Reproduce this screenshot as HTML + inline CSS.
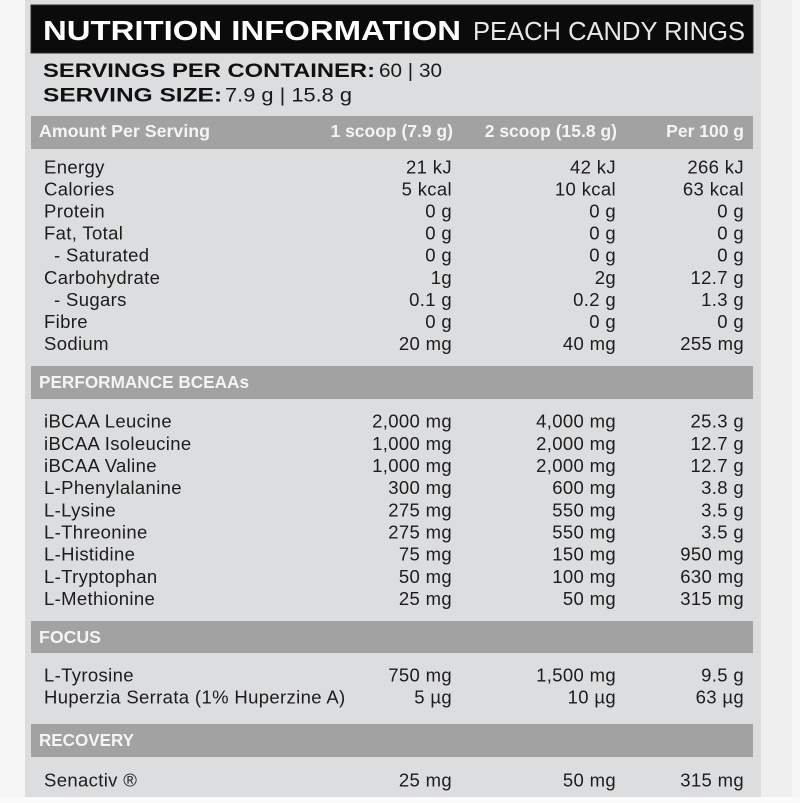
<!DOCTYPE html>
<html><head><meta charset="utf-8"><style>
html,body{margin:0;padding:0;background:#f6f6f6;}
svg{display:block;}
.b{font-family:"Liberation Sans",Arial,sans-serif;font-size:18.5px;fill:#1c1c1c;letter-spacing:0.35px;}
.h{font-family:"Liberation Sans",Arial,sans-serif;font-size:17.5px;font-weight:bold;fill:#f4f4f4;}
.e{text-anchor:end;}
</style></head><body>
<svg width="800" height="803" viewBox="0 0 800 803" xmlns="http://www.w3.org/2000/svg">
<rect x="0" y="0" width="800" height="803" fill="#f6f6f6"/>
<rect x="761" y="0" width="31" height="797" fill="#efefef"/>
<rect x="0" y="797" width="800" height="6" fill="#fbfbfb"/>
<rect x="25" y="0" width="736" height="797" fill="#dcdddf"/>
<rect x="31" y="5" width="722" height="48" fill="#0b0b0b" stroke="#2a2a2a" stroke-width="1"/>
<text x="43" y="40" font-family="Liberation Sans,Arial,sans-serif" font-weight="bold" font-size="28" fill="#ffffff" textLength="418" lengthAdjust="spacingAndGlyphs">NUTRITION INFORMATION</text>
<text x="473" y="40" font-family="Liberation Sans,Arial,sans-serif" font-size="25.5" fill="#e8e8e8" textLength="272" lengthAdjust="spacingAndGlyphs">PEACH CANDY RINGS</text>
<text x="43" y="77" font-family="Liberation Sans,Arial,sans-serif" font-weight="bold" font-size="19" fill="#111" textLength="332" lengthAdjust="spacingAndGlyphs">SERVINGS PER CONTAINER:</text>
<text x="379" y="77" font-family="Liberation Sans,Arial,sans-serif" font-size="19" fill="#1a1a1a" textLength="63" lengthAdjust="spacingAndGlyphs">60 | 30</text>
<text x="43" y="101.5" font-family="Liberation Sans,Arial,sans-serif" font-weight="bold" font-size="19" fill="#111" textLength="179" lengthAdjust="spacingAndGlyphs">SERVING SIZE:</text>
<text x="225" y="101.5" font-family="Liberation Sans,Arial,sans-serif" font-size="19" fill="#1a1a1a" textLength="127" lengthAdjust="spacingAndGlyphs">7.9 g | 15.8 g</text>

<rect x="31" y="116" width="722" height="33" fill="#a1a2a1"/>
<text class="h" x="39" y="137" textLength="171" lengthAdjust="spacingAndGlyphs">Amount Per Serving</text>
<text class="h e" x="453" y="137">1 scoop (7.9 g)</text>
<text class="h e" x="617" y="137">2 scoop (15.8 g)</text>
<text class="h e" x="744" y="137">Per 100 g</text>

<g class="b">
<text x="44" y="173.3">Energy</text><text class="e" x="452" y="173.3">21 kJ</text><text class="e" x="616" y="173.3">42 kJ</text><text class="e" x="744" y="173.3">266 kJ</text>
<text x="44" y="195.4">Calories</text><text class="e" x="452" y="195.4">5 kcal</text><text class="e" x="616" y="195.4">10 kcal</text><text class="e" x="744" y="195.4">63 kcal</text>
<text x="44" y="217.5">Protein</text><text class="e" x="452" y="217.5">0 g</text><text class="e" x="616" y="217.5">0 g</text><text class="e" x="744" y="217.5">0 g</text>
<text x="44" y="239.6">Fat, Total</text><text class="e" x="452" y="239.6">0 g</text><text class="e" x="616" y="239.6">0 g</text><text class="e" x="744" y="239.6">0 g</text>
<text x="54" y="261.7">- Saturated</text><text class="e" x="452" y="261.7">0 g</text><text class="e" x="616" y="261.7">0 g</text><text class="e" x="744" y="261.7">0 g</text>
<text x="44" y="283.8">Carbohydrate</text><text class="e" x="452" y="283.8">1g</text><text class="e" x="616" y="283.8">2g</text><text class="e" x="744" y="283.8">12.7 g</text>
<text x="54" y="305.9">- Sugars</text><text class="e" x="452" y="305.9">0.1 g</text><text class="e" x="616" y="305.9">0.2 g</text><text class="e" x="744" y="305.9">1.3 g</text>
<text x="44" y="328">Fibre</text><text class="e" x="452" y="328">0 g</text><text class="e" x="616" y="328">0 g</text><text class="e" x="744" y="328">0 g</text>
<text x="44" y="350.1">Sodium</text><text class="e" x="452" y="350.1">20 mg</text><text class="e" x="616" y="350.1">40 mg</text><text class="e" x="744" y="350.1">255 mg</text>
</g>

<rect x="31" y="366" width="722" height="33" fill="#a1a2a1"/>
<text class="h" x="39" y="388" textLength="210" lengthAdjust="spacingAndGlyphs">PERFORMANCE BCEAAs</text>

<g class="b">
<text x="44" y="427.7">iBCAA Leucine</text><text class="e" x="452" y="427.7">2,000 mg</text><text class="e" x="616" y="427.7">4,000 mg</text><text class="e" x="744" y="427.7">25.3 g</text>
<text x="44" y="449.9">iBCAA Isoleucine</text><text class="e" x="452" y="449.9">1,000 mg</text><text class="e" x="616" y="449.9">2,000 mg</text><text class="e" x="744" y="449.9">12.7 g</text>
<text x="44" y="472">iBCAA Valine</text><text class="e" x="452" y="472">1,000 mg</text><text class="e" x="616" y="472">2,000 mg</text><text class="e" x="744" y="472">12.7 g</text>
<text x="44" y="494.2">L-Phenylalanine</text><text class="e" x="452" y="494.2">300 mg</text><text class="e" x="616" y="494.2">600 mg</text><text class="e" x="744" y="494.2">3.8 g</text>
<text x="44" y="516.4">L-Lysine</text><text class="e" x="452" y="516.4">275 mg</text><text class="e" x="616" y="516.4">550 mg</text><text class="e" x="744" y="516.4">3.5 g</text>
<text x="44" y="538.5">L-Threonine</text><text class="e" x="452" y="538.5">275 mg</text><text class="e" x="616" y="538.5">550 mg</text><text class="e" x="744" y="538.5">3.5 g</text>
<text x="44" y="560.7">L-Histidine</text><text class="e" x="452" y="560.7">75 mg</text><text class="e" x="616" y="560.7">150 mg</text><text class="e" x="744" y="560.7">950 mg</text>
<text x="44" y="582.9">L-Tryptophan</text><text class="e" x="452" y="582.9">50 mg</text><text class="e" x="616" y="582.9">100 mg</text><text class="e" x="744" y="582.9">630 mg</text>
<text x="44" y="605">L-Methionine</text><text class="e" x="452" y="605">25 mg</text><text class="e" x="616" y="605">50 mg</text><text class="e" x="744" y="605">315 mg</text>
</g>

<rect x="31" y="621" width="722" height="32" fill="#a1a2a1"/>
<text class="h" x="39" y="643" textLength="62" lengthAdjust="spacingAndGlyphs">FOCUS</text>

<g class="b">
<text x="44" y="681.7">L-Tyrosine</text><text class="e" x="452" y="681.7">750 mg</text><text class="e" x="616" y="681.7">1,500 mg</text><text class="e" x="744" y="681.7">9.5 g</text>
<text x="44" y="703.5">Huperzia Serrata (1% Huperzine A)</text><text class="e" x="452" y="703.5">5 µg</text><text class="e" x="616" y="703.5">10 µg</text><text class="e" x="744" y="703.5">63 µg</text>
</g>

<rect x="31" y="724" width="722" height="33" fill="#a1a2a1"/>
<text class="h" x="39" y="746" textLength="95" lengthAdjust="spacingAndGlyphs">RECOVERY</text>

<g class="b">
<text x="44" y="786.5">Senactiv ®</text><text class="e" x="452" y="786.5">25 mg</text><text class="e" x="616" y="786.5">50 mg</text><text class="e" x="744" y="786.5">315 mg</text>
</g>
</svg>
</body></html>
